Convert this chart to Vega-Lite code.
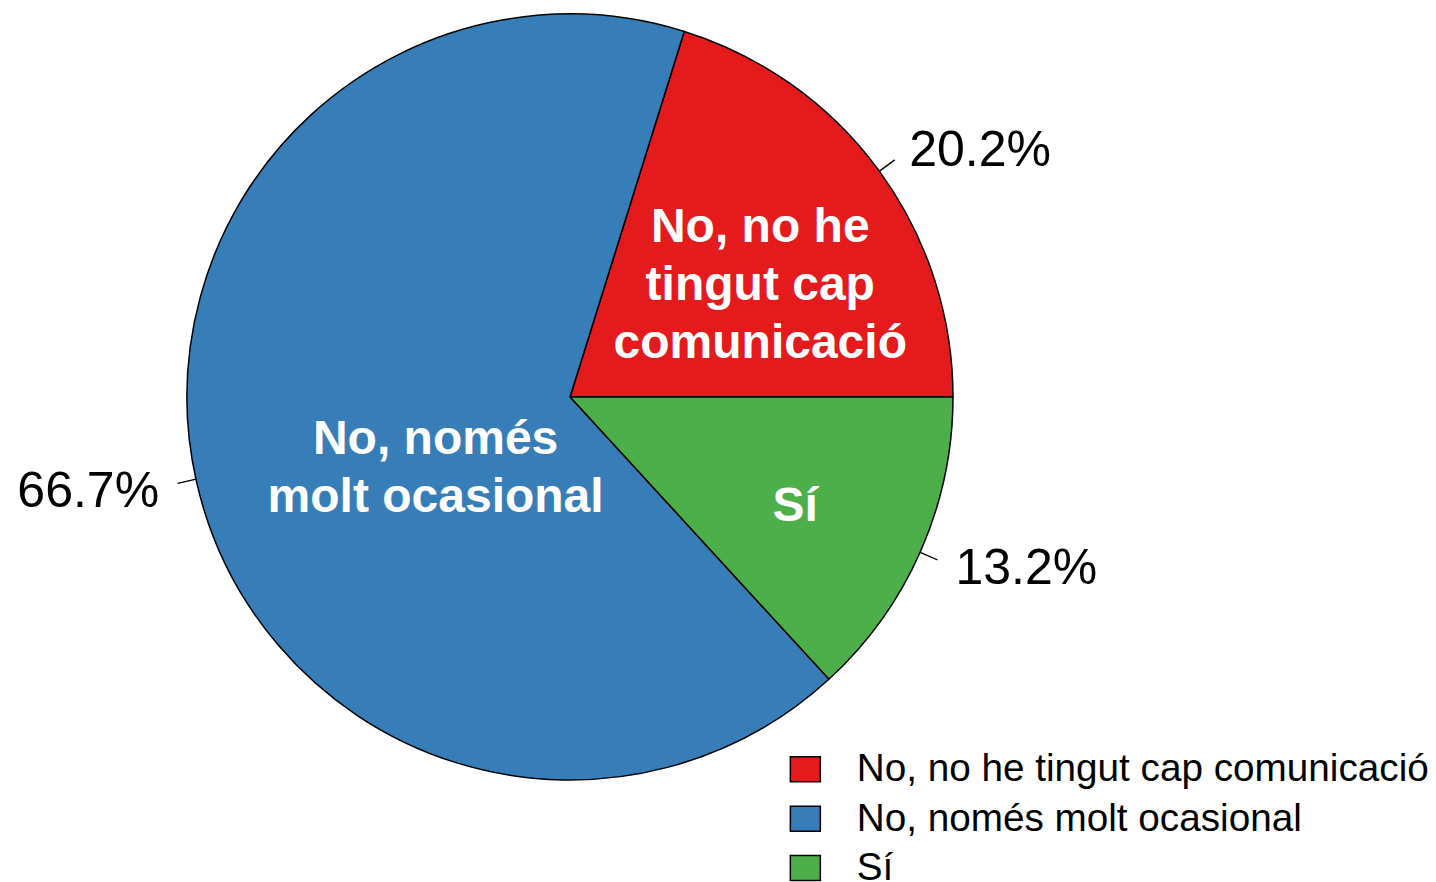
{
  "$schema": "https://vega.github.io/schema/vega-lite/v6.json",
  "width": 766,
  "height": 766,
  "autosize": {"type": "none"},
  "padding": {"left": 187, "top": 14, "right": 483, "bottom": 102},
  "background": "white",
  "config": {"view": {"stroke": null}, "font": "Liberation Sans"},
  "data": {
    "values": [
      {"cat": "No, no he tingut cap comunicació", "value": 20.2, "ord": 1, "pct": "20.2%", "lab": "No, no he\ntingut cap\ncomunicació"},
      {"cat": "Sí", "value": 13.2, "ord": 2, "pct": "13.2%", "lab": "Sí"},
      {"cat": "No, només molt ocasional", "value": 66.7, "ord": 3, "pct": "66.7%", "lab": "No, només\nmolt ocasional"}
    ]
  },
  "encoding": {
    "theta": {"field": "value", "type": "quantitative", "stack": true, "scale": {"domain": [0, 100.1], "range": [0.3029, 6.5861]}},
    "order": {"field": "ord", "type": "quantitative", "sort": "ascending"}
  },
  "layer": [
    {
      "mark": {"type": "arc", "radius": 383, "stroke": "black", "strokeWidth": 1.5},
      "encoding": {
        "color": {
          "field": "cat",
          "type": "nominal",
          "scale": {
            "domain": ["No, no he tingut cap comunicació", "No, només molt ocasional", "Sí"],
            "range": ["#E41A1C", "#377EB8", "#4DAF4A"]
          },
          "legend": {
            "orient": "none",
            "legendX": 599,
            "legendY": 736,
            "title": null,
            "symbolType": "M-1,-0.833H1V0.833H-1Z",
            "symbolSize": 900,
            "symbolStrokeColor": "black",
            "symbolStrokeWidth": 1.5,
            "symbolOpacity": 1,
            "labelFontSize": 38.7,
            "labelFont": "Liberation Sans",
            "labelColor": "black",
            "labelOffset": 32,
            "labelLimit": 1000,
            "rowPadding": 9.3,
            "padding": 0
          }
        }
      }
    },
    {
      "mark": {"type": "text", "radius": 392.5, "text": "—", "fontSize": 19, "align": "center", "baseline": "middle", "color": "black"},
      "encoding": {
        "angle": {
          "condition": [
            {"test": "datum.ord === 1", "value": 323.7},
            {"test": "datum.ord === 2", "value": 23.74}
          ],
          "value": 167.41
        }
      }
    },
    {
      "mark": {"type": "text", "radius": 421, "dy": 3, "fontSize": 50, "align": "left", "baseline": "middle", "color": "black"},
      "encoding": {
        "text": {"condition": {"test": "datum.ord !== 3", "field": "pct"}, "value": ""}
      }
    },
    {
      "mark": {"type": "text", "radius": 421, "dy": 3, "fontSize": 50, "align": "right", "baseline": "middle", "color": "black"},
      "encoding": {
        "text": {"condition": {"test": "datum.ord === 3", "field": "pct"}, "value": ""}
      }
    },
    {
      "mark": {"type": "text", "radius": 220, "dx": 13, "dy": -39, "fontSize": 48, "fontWeight": "bold", "align": "center", "baseline": "middle", "color": "white", "lineBreak": "\n", "lineHeight": 58},
      "encoding": {
        "text": {"condition": {"test": "datum.ord === 1", "field": "lab"}, "value": ""}
      }
    },
    {
      "mark": {"type": "text", "radius": 245, "dx": 1, "dy": 11, "fontSize": 48, "fontWeight": "bold", "align": "center", "baseline": "middle", "color": "white", "lineBreak": "\n", "lineHeight": 58},
      "encoding": {
        "text": {"condition": {"test": "datum.ord === 2", "field": "lab"}, "value": ""}
      }
    },
    {
      "mark": {"type": "text", "radius": 150, "dx": 12, "dy": 10, "fontSize": 48, "fontWeight": "bold", "align": "center", "baseline": "middle", "color": "white", "lineBreak": "\n", "lineHeight": 58},
      "encoding": {
        "text": {"condition": {"test": "datum.ord === 3", "field": "lab"}, "value": ""}
      }
    }
  ]
}
